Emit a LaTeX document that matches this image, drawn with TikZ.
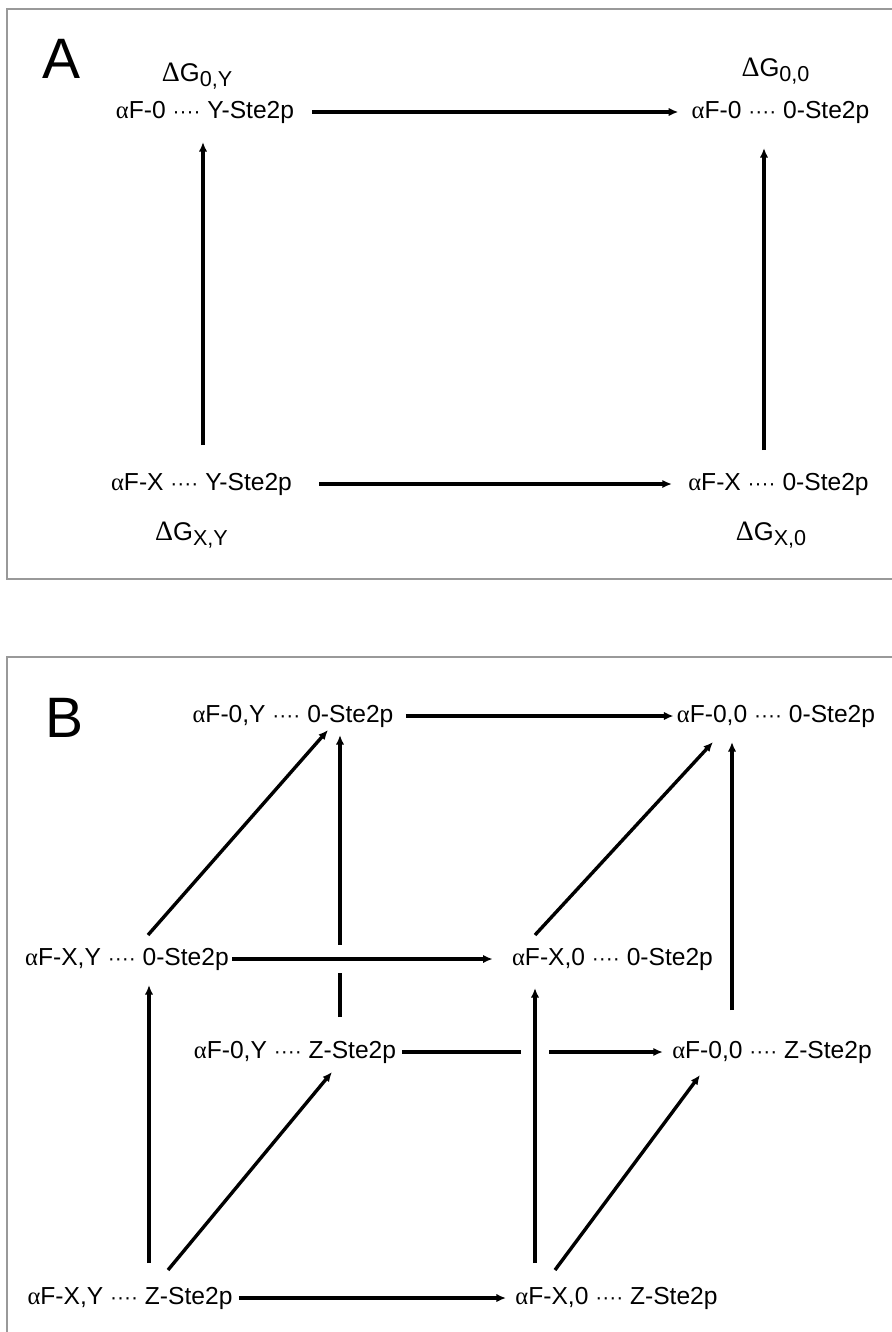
\documentclass[tikz,border=0pt]{standalone}
\usepackage{fontspec}
\setmainfont{Liberation Sans}
\newfontfamily\symfont{Liberation Serif}
\usetikzlibrary{arrows.meta, calc}
\newcommand{\al}{{\symfont α}}
\newcommand{\dd}{{\fontsize{10.5}{12}\selectfont ····}}
\newcommand{\dG}[1]{{\symfont\fontsize{14}{14}\selectfont Δ}G\raisebox{-2.5pt}{\fontsize{10.8}{11}\selectfont #1}}

\begin{document}
\begin{tikzpicture}[x=0.5pt, y=-0.5pt,
    state/.style={inner sep=0pt, text height=9pt, text depth=2.6pt, font=\fontsize{12.3}{14}\selectfont},
    energy/.style={inner sep=0pt, anchor=base, font=\fontsize{12.8}{14}\selectfont},
    panel/.style={inner sep=0pt, anchor=base, font=\fontsize{28.5}{30}\selectfont},
    frame/.style={draw=gray!80, line width=0.9pt},
    arrow/.style={-{Latex[length=4.8pt,width=4.2pt]}, line width=1.7pt},
    over/.style={preaction={draw=white, -, line width=14pt}}
]
    \useasboundingbox (0,0) rectangle (892,1332);

    % panel A
    \draw[frame] (892,9) -- (7,9) -- (7,579) -- (892,579);
    \node[panel] (labA) at (61.5,79) {A};
    \node[state] (a0y) at (205,112) {\al F-0 \dd\ Y-Ste2p};
    \node[state] (a00) at (780.5,112) {\al F-0 \dd\ 0-Ste2p};
    \node[state] (axy) at (201.5,484) {\al F-X \dd\ Y-Ste2p};
    \node[state] (ax0) at (778.5,484) {\al F-X \dd\ 0-Ste2p};
    \node[energy] (g0y) at (197,82) {\dG{0,Y}};
    \node[energy] (g00) at (775.5,77) {\dG{0,0}};
    \node[energy] (gxy) at (191.5,540) {\dG{X,Y}};
    \node[energy] (gx0) at (771,540) {\dG{X,0}};

    \draw[arrow, shorten <=9pt, shorten >=6.5pt] (a0y) -- (a00);
    \draw[arrow, shorten <=13.5pt, shorten >=8pt] (axy) -- (ax0);
    \draw[arrow] ($(axy)+(1.5,-39)$) -- ($(a0y)+(-2,30)$);
    \draw[arrow] ($(ax0)+(-14.5,-34)$) -- ($(a00)+(-16.5,36)$);

    % panel B
    \draw[frame] (892,657) -- (7,657) -- (7,1332);
    \node[panel] (labB) at (65,737) {B};
    \node[state] (t0y) at (293,716) {\al F-0,Y \dd\ 0-Ste2p};
    \node[state] (t00) at (776,716) {\al F-0,0 \dd\ 0-Ste2p};
    \node[state] (mxy) at (127,959) {\al F-X,Y \dd\ 0-Ste2p};
    \node[state] (mx0) at (612.5,959) {\al F-X,0 \dd\ 0-Ste2p};
    \node[state] (n0y) at (295,1052) {\al F-0,Y \dd\ Z-Ste2p};
    \node[state] (n00) at (772,1052) {\al F-0,0 \dd\ Z-Ste2p};
    \node[state] (bxy) at (130,1298) {\al F-X,Y \dd\ Z-Ste2p};
    \node[state] (bx0) at (616.5,1298) {\al F-X,0 \dd\ Z-Ste2p};

    % back edges first
    \draw[arrow] ($(n0y)+(45,-35)$) -- ($(t0y)+(47,19)$);
    \draw[arrow, shorten <=3pt, shorten >=4.5pt] (n0y) -- (n00);
    % the rest
    \draw[arrow, shorten <=6pt, shorten >=1.5pt] (t0y) -- (t00);
    \draw[arrow] ($(mxy)+(21,-24)$) -- ($(t0y)+(35,14)$);
    \draw[arrow] ($(mx0)+(-77.5,-24)$) -- ($(t00)+(-63,26)$);
    \draw[arrow] ($(n00)+(-40,-42)$) -- ($(t00)+(-44,26)$);
    \draw[arrow] ($(bxy)+(19,-35)$) -- ($(mxy)+(22,26)$);
    \draw[arrow] ($(bxy)+(38,-28)$) -- ($(n0y)+(37,20)$);
    \draw[arrow] ($(bx0)+(-61.5,-28)$) -- ($(n00)+(-72,23)$);
    \draw[arrow, shorten <=3pt, shorten >=4.5pt] (bxy) -- (bx0);
    % front edges over the back ones
    \draw[arrow, over, shorten <=1.5pt, shorten >=9.5pt] (mxy) -- (mx0);
    \draw[arrow, over] ($(bx0)+(-81.5,-35)$) -- ($(mx0)+(-77.5,29)$);
\end{tikzpicture}
\end{document}
